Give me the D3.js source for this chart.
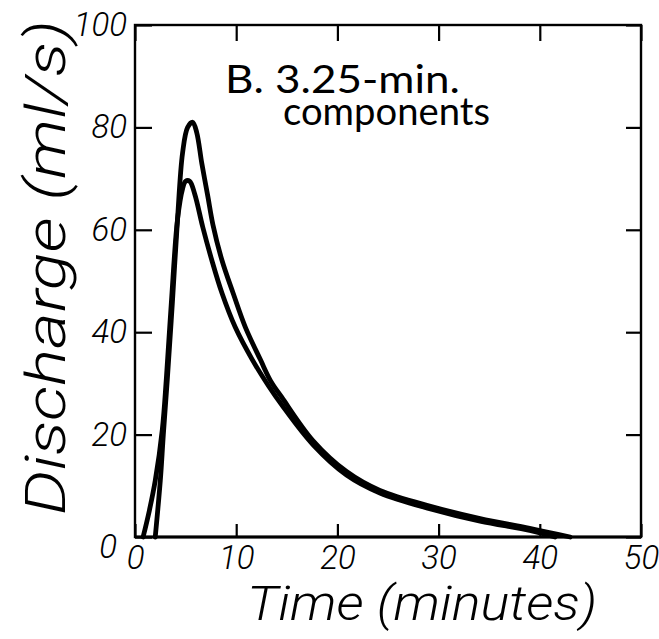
<!DOCTYPE html>
<html>
<head>
    <title>Discharge - 3.25 min components</title>
    <script src="https://cdn.jsdelivr.net/npm/d3@7/dist/d3.min.js"></script>
    <style>
        body { margin: 0; background: #fff; }
    </style>
</head>
<body>
<div id="chart"></div>

<script type="text/javascript">
	// curve with the higher peak (about 81 ml/s)
	var timeA = [2.0, 2.5, 2.8, 3.2, 3.7, 4.2, 4.7, 5.2, 5.7, 6.1, 6.6, 7.2, 7.7, 8.6, 9.7, 10.9, 12.4, 13.4, 14.5, 17.6, 20.9, 24.2, 29.2, 34.1, 39.0, 43.0];
	var dischargeA = [0, 11, 20, 31, 46, 62, 75, 80, 81, 79, 73, 66.5, 61, 54, 47.6, 41, 34.6, 30.5, 27.3, 18.8, 12.8, 9.1, 6.0, 3.6, 1.7, 0];

	// curve with the lower peak (about 69 ml/s)
	var timeB = [0.8, 1.4, 2.0, 2.7, 3.1, 3.6, 4.2, 4.7, 5.0, 5.4, 5.9, 6.7, 7.6, 8.6, 9.9, 11.6, 13.2, 14.5, 17.6, 20.9, 24.2, 29.2, 34.1, 39.0, 41.5];
	var dischargeB = [0, 5, 11, 21, 31, 46, 62, 68, 69.5, 69.5, 67, 60.5, 54, 47.6, 41, 34.6, 29.5, 25.8, 18.0, 12.1, 8.6, 5.5, 3.1, 1.3, 0];

	var xTicks = [0, 10, 20, 30, 40, 50];
	var yTicks = [0, 20, 40, 60, 80, 100];

	var width = 659, height = 639;
	// plot box edges (note: "top" is taken by window.top, so prefix them)
	var boxLeft = 135, boxRight = 641, boxTop = 25, boxBottom = 537;

	var svg = d3.select("#chart").append("svg")
		.attr("width", width)
		.attr("height", height);

	var x = d3.scaleLinear().domain([0, 50]).range([boxLeft, boxRight]);
	var y = d3.scaleLinear().domain([0, 100]).range([boxBottom, boxTop]);

	var tickFont = "Roboto, 'DejaVu Sans', sans-serif";

	// ticks point inward on all four sides
	var axBottom = svg.append("g").attr("transform", "translate(0," + boxBottom + ")")
		.call(d3.axisBottom(x).tickValues(xTicks).tickSizeInner(-13).tickSizeOuter(0).tickPadding(8));
	var axTop = svg.append("g").attr("transform", "translate(0," + boxTop + ")")
		.call(d3.axisTop(x).tickValues(xTicks).tickSizeInner(-16).tickSizeOuter(0).tickFormat(""));
	var axLeft = svg.append("g").attr("transform", "translate(" + boxLeft + ",0)")
		.call(d3.axisLeft(y).tickValues(yTicks).tickSizeInner(-17).tickSizeOuter(0).tickPadding(8));
	var axRight = svg.append("g").attr("transform", "translate(" + boxRight + ",0)")
		.call(d3.axisRight(y).tickValues(yTicks).tickSizeInner(-15).tickSizeOuter(0).tickFormat(""));

	[axBottom, axTop, axLeft, axRight].forEach(function(g) {
		g.select(".domain").remove();
		g.selectAll(".tick line").attr("stroke", "#000").attr("stroke-width", 2.2);
		g.selectAll(".tick text")
			.attr("fill", "#000")
			.style("font-family", tickFont)
			.style("font-style", "italic")
			.style("font-weight", 300)
			.style("font-size", "33px");
	});
	axBottom.selectAll(".tick text").attr("dy", "0.72em");
	// the zero on the y axis sits a little low and to the left
	axLeft.selectAll(".tick text").filter(function(d) { return d === 0; })
		.attr("dy", "0.62em").attr("x", -18);

	// frame
	svg.append("rect")
		.attr("x", boxLeft).attr("y", boxTop)
		.attr("width", boxRight - boxLeft).attr("height", boxBottom - boxTop)
		.attr("fill", "none").attr("stroke", "#000").attr("stroke-width", 2.4);
	svg.append("line")
		.attr("x1", boxLeft).attr("x2", boxRight).attr("y1", boxBottom).attr("y2", boxBottom)
		.attr("stroke", "#000").attr("stroke-width", 3.2);

	// the two hydrographs
	var line = d3.line()
		.x(function(d) { return x(d[0]); })
		.y(function(d) { return y(d[1]); })
		.curve(d3.curveCatmullRom.alpha(0.5));

	var series = [d3.zip(timeA, dischargeA), d3.zip(timeB, dischargeB)];
	svg.selectAll("path.flow").data(series).enter().append("path")
		.attr("class", "flow")
		.attr("d", line)
		.attr("fill", "none")
		.attr("stroke", "#000")
		.attr("stroke-width", 4.8)
		.attr("stroke-linejoin", "round")
		.attr("stroke-linecap", "round");

	// annotation
	var noteFont = "Lato, 'Open Sans', sans-serif";
	svg.append("text")
		.attr("x", 225).attr("y", 93)
		.attr("textLength", 235).attr("lengthAdjust", "spacingAndGlyphs")
		.style("font-family", noteFont).style("font-size", "38px").style("font-weight", 400)
		.text("B. 3.25-min.");
	svg.append("text")
		.attr("x", 283).attr("y", 125)
		.attr("textLength", 207).attr("lengthAdjust", "spacingAndGlyphs")
		.style("font-family", noteFont).style("font-size", "38px").style("font-weight", 400)
		.text("components");

	// axis titles
	svg.append("text")
		.attr("x", 247).attr("y", 620)
		.attr("textLength", 350).attr("lengthAdjust", "spacingAndGlyphs")
		.style("font-family", tickFont).style("font-style", "italic").style("font-weight", 300)
		.style("font-size", "48px")
		.text("Time (minutes)");
	svg.append("text")
		.attr("transform", "translate(65,515) rotate(-90)")
		.attr("textLength", 495).attr("lengthAdjust", "spacingAndGlyphs")
		.style("font-family", tickFont).style("font-style", "italic").style("font-weight", 300)
		.style("font-size", "56px")
		.text("Discharge (ml/s)");
</script>
</body>
</html>
